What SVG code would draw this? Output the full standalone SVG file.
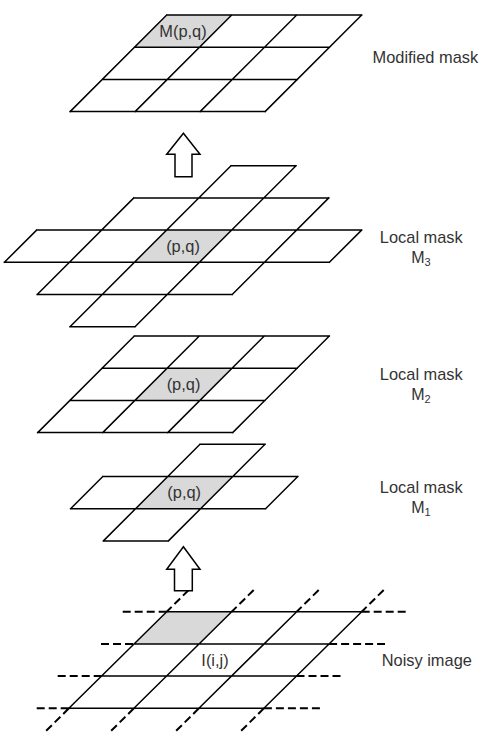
<svg xmlns="http://www.w3.org/2000/svg" width="481" height="754" viewBox="0 0 481 754">
<style>
.ln{fill:none;stroke:#000;stroke-width:1.5;stroke-linecap:square}
.dash{fill:none;stroke:#000;stroke-width:2;stroke-dasharray:8 4}
.sh{fill:#d9d9d9;stroke:none}
.t{font-family:"Liberation Sans",Arial,sans-serif;font-size:16.4px;fill:#333}
.c{text-anchor:middle}
.m{font-size:16px}
.sub{font-size:11px}
.arr{fill:#fff;stroke:#000;stroke-width:1.5;stroke-linejoin:miter}
</style>
<rect width="481" height="754" fill="#fff"/>

<g id="modified-mask">
<polygon class="sh" points="166.7,15 231.7,15 199.4,47.2 134.4,47.2"/>
<path class="ln" d="M166.7,15H361.7M134.5,47.2H329.5M102.3,79.4H297.3M70.1,111.6H265.1
M166.7,15L70.1,111.6M231.7,15L135.1,111.6M296.7,15L200.1,111.6M361.7,15L265.1,111.6"/>
<text class="t c" x="183" y="36.7">M(p,q)</text>
<text class="t" x="372.5" y="63.3">Modified mask</text>
</g>

<g id="local-mask-3">
<polygon class="sh" points="166.6,230.1 231.6,230.1 199.4,262.3 134.4,262.3"/>
<path class="ln" d="M231,165.7H296M133.8,197.9H328.8M36.6,230.1H361.6M4.4,262.3H329.4M37.2,294.5H232.2M70,326.7H135
M36.6,230.1L4.4,262.3M133.8,197.9L37.2,294.5M231,165.7L70,326.7M296,165.7L135,326.7M328.8,197.9L232.2,294.5M361.6,230.1L329.4,262.3"/>
<text class="t c" x="183" y="251.7">(p,q)</text>
<text class="t c" x="421.3" y="243.3">Local mask</text>
<text class="t c m" x="421" y="263.3">M<tspan class="sub" dy="3">3</tspan></text>
</g>

<g id="local-mask-2">
<polygon class="sh" points="167.1,368.2 232.1,368.2 199.9,400.4 134.9,400.4"/>
<path class="ln" d="M134.3,336H329.3M102.1,368.2H297.1M69.9,400.4H264.9M37.7,432.6H232.7
M134.3,336L37.7,432.6M199.3,336L102.7,432.6M264.3,336L167.7,432.6M329.3,336L232.7,432.6"/>
<text class="t c" x="183.5" y="389.8">(p,q)</text>
<text class="t c" x="421.3" y="380">Local mask</text>
<text class="t c m" x="421" y="400">M<tspan class="sub" dy="3">2</tspan></text>
</g>

<g id="local-mask-1">
<polygon class="sh" points="167.8,476.5 232.8,476.5 200.6,508.7 135.6,508.7"/>
<path class="ln" d="M200,444.3H265M102.8,476.5H297.8M70.6,508.7H265.6M103.4,540.9H168.4
M102.8,476.5L70.6,508.7M200,444.3L103.4,540.9M265,444.3L168.4,540.9M297.8,476.5L265.6,508.7"/>
<text class="t c" x="184.2" y="498">(p,q)</text>
<text class="t c" x="421.3" y="493.3">Local mask</text>
<text class="t c m" x="421" y="513.3">M<tspan class="sub" dy="3">1</tspan></text>
</g>

<g id="noisy-image">
<polygon class="sh" points="166.7,611.7 231.7,611.7 199.1,643.9 134.1,643.9"/>
<path class="ln" d="M166.7,611.7H361.7M134.1,643.9H329.1M101.5,676.1H296.5M68.9,708.3H263.9
M166.7,611.7L68.9,708.3M231.7,611.7L133.9,708.3M296.7,611.7L198.9,708.3M361.7,611.7L263.9,708.3"/>
<path class="dash" d="M122.7,611.7H166.7M361.7,611.7H406.7M101,643.9H134.1M329.1,643.9H385M57.7,676.1H101.5M296.5,676.1H341.7M36.7,708.3H68.9M263.9,708.3H320
M188.7,590L166.7,611.7M253.7,590L231.7,611.7M318.7,590L296.7,611.7M383.7,590L361.7,611.7
M68.9,708.3L45.5,731.5M133.9,708.3L110.5,731.5M198.9,708.3L175.5,731.5M263.9,708.3L240.5,731.5"/>
<text class="t c" x="215" y="665.5">I(i,j)</text>
<text class="t" x="381.7" y="665.7">Noisy image</text>
</g>

<g id="connectors">
<polygon class="arr" points="183.4,133.3 200,154.3 192,154.3 192,176.7 175,176.7 175,154.3 166.7,154.3"/>
<polygon class="arr" points="183.4,546.7 200,569.3 192.3,569.3 192.3,590.7 174.5,590.7 174.5,569.3 166.7,569.3"/>
</g>
</svg>
